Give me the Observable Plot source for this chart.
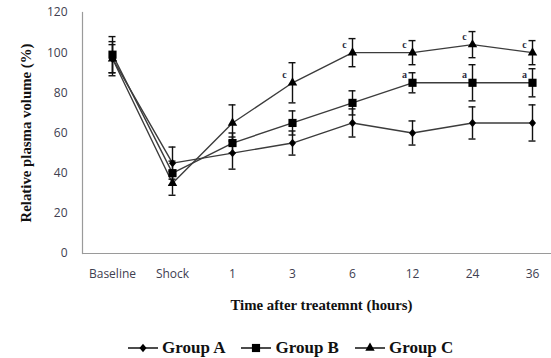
<!DOCTYPE html>
<html>
<head>
<meta charset="utf-8">
<script src="https://cdn.jsdelivr.net/npm/d3@7"></script>
<script src="https://cdn.jsdelivr.net/npm/@observablehq/plot@0.6"></script>
<style>
  html, body { margin: 0; padding: 0; background: #fff; }
  #wrap { width: 551px; height: 358px; position: relative; overflow: hidden; }
  #legend { position: absolute; left: 128px; top: 338px; display: flex; align-items: center;
    font-family: "Liberation Serif", "DejaVu Serif", serif; font-weight: bold; font-size: 17px; color: #111; }
  #legend .item { display: flex; align-items: center; margin-right: 16px; }
  #legend svg { margin-right: 4px; }
</style>
</head>
<body>
<div id="wrap"><div id="legend"></div></div>
<script>
const categories = ["Baseline", "Shock", "1", "3", "6", "12", "24", "36"];
const groupA = [97, 45, 50, 55, 65, 60, 65, 65];
const errA   = [7, 8, 8, 6, 7, 6, 8, 9];
const groupB = [99, 40, 55, 65, 75, 85, 85, 85];
const errB   = [9, 6, 5, 6, 6, 5, 9, 7];
const groupC = [97, 35, 65, 85, 100, 100, 104, 100];
const errC   = [8.5, 6, 9, 10, 7, 6, 6.5, 6];
const lettersB = ["", "", "", "", "", "a", "a", "a"];
const lettersC = ["", "", "", "c", "c", "c", "c", "c"];
const groupNames = ["Group A", "Group B", "Group C"];
const yTicks = [0, 20, 40, 60, 80, 100, 120];

const series = [
  {g: "Group A", vals: groupA, errs: errA, letters: null},
  {g: "Group B", vals: groupB, errs: errB, letters: lettersB},
  {g: "Group C", vals: groupC, errs: errC, letters: lettersC}
];
const rows = series.flatMap(s => categories.map((t, i) => ({
  t, g: s.g, v: s.vals[i], lo: s.vals[i] - s.errs[i], hi: s.vals[i] + s.errs[i],
  letter: s.letters ? s.letters[i] : ""
})));

const diamond = {
  draw(ctx, size) {
    const r = Math.sqrt(size / Math.PI);
    ctx.moveTo(0, -r * 1.2); ctx.lineTo(r, 0); ctx.lineTo(0, r * 1.2); ctx.lineTo(-r, 0); ctx.closePath();
  }
};
const symbolFor = {"Group A": diamond, "Group B": "square", "Group C": "triangle"};
const rFor = {"Group A": 3.5, "Group B": 4.6, "Group C": 3.5};

const lineColor = "#3c3c3c";
const chart = Plot.plot({
  width: 551,
  height: 320,
  marginLeft: 82,
  marginRight: 0,
  marginTop: 12,
  marginBottom: 67,
  style: {fontFamily: "'Open Sans', 'Liberation Sans', sans-serif", fontSize: "12px", color: "#404050", background: "#fff"},
  x: {type: "band", domain: categories, range: [81.5, 561.5], padding: 0},
  y: {domain: [0, 120], nice: false},
  marks: [
    Plot.frame({anchor: "left", stroke: "#9a9a9a", strokeWidth: 1.2}),
    Plot.ruleY([0], {stroke: "#9a9a9a", strokeWidth: 1.2}),
    Plot.axisY({ticks: yTicks, tickSize: 0, tickPadding: 15, label: null, fill: "#404050"}),
    Plot.axisX({tickSize: 0, tickPadding: 16, label: null, fill: "#404050"}),
    Plot.line(rows, {x: "t", y: "v", z: "g", stroke: lineColor, strokeWidth: 1.4}),
    Plot.ruleX(rows, {x: "t", y1: "lo", y2: "hi", stroke: "#111", strokeWidth: 1.4}),
    Plot.tickY(rows, {x: "t", y: "lo", stroke: "#111", strokeWidth: 1.4, insetLeft: 26.5, insetRight: 26.5}),
    Plot.tickY(rows, {x: "t", y: "hi", stroke: "#111", strokeWidth: 1.4, insetLeft: 26.5, insetRight: 26.5}),
    ...groupNames.map(g => Plot.dot(rows.filter(d => d.g === g), {
      x: "t", y: "v", symbol: () => symbolFor[g], r: rFor[g], fill: "#000", stroke: "none"
    })),
    Plot.text(rows.filter(d => d.letter), {
      x: "t", y: "v", text: "letter", dx: -8, dy: -8,
      fontFamily: "'Liberation Serif', serif", fontWeight: "bold", fontSize: 10, fill: "#2a2a40"
    }),
    Plot.text(["Relative plasma volume (%)"], {
      text: d => d, frameAnchor: "left", textAnchor: "middle", lineAnchor: "middle", rotate: -90, dx: -56,
      fontFamily: "'Liberation Serif', serif", fontWeight: "bold", fontSize: 14.8, fill: "#111"
    }),
    Plot.text(["Time after treatemnt (hours)"], {
      text: d => d, frameAnchor: "bottom", textAnchor: "middle", lineAnchor: "middle", dx: 4.5, dy: 52,
      fontFamily: "'Liberation Serif', serif", fontWeight: "bold", fontSize: 14.8, fill: "#111"
    })
  ]
});
chart.style.position = "absolute";
chart.style.left = "0px";
chart.style.top = "0px";
document.getElementById("wrap").prepend(chart);

const legend = document.getElementById("legend");
groupNames.forEach(g => {
  const item = document.createElement("div");
  item.className = "item";
  const sv = d3.create("svg").attr("width", 30).attr("height", 14);
  sv.append("line").attr("x1", 0).attr("x2", 30).attr("y1", 7).attr("y2", 7).attr("stroke", "#111").attr("stroke-width", 1.5);
  const sym = symbolFor[g];
  const r = rFor[g];
  const gen = typeof sym === "string" ? (sym === "square" ? d3.symbolSquare : d3.symbolTriangle) : sym;
  sv.append("path").attr("transform", "translate(15,7)").attr("d", d3.symbol(gen, Math.PI * r * r)()).attr("fill", "#000");
  item.appendChild(sv.node());
  const span = document.createElement("span");
  span.textContent = g;
  item.appendChild(span);
  legend.appendChild(item);
});
</script>
</body>
</html>
